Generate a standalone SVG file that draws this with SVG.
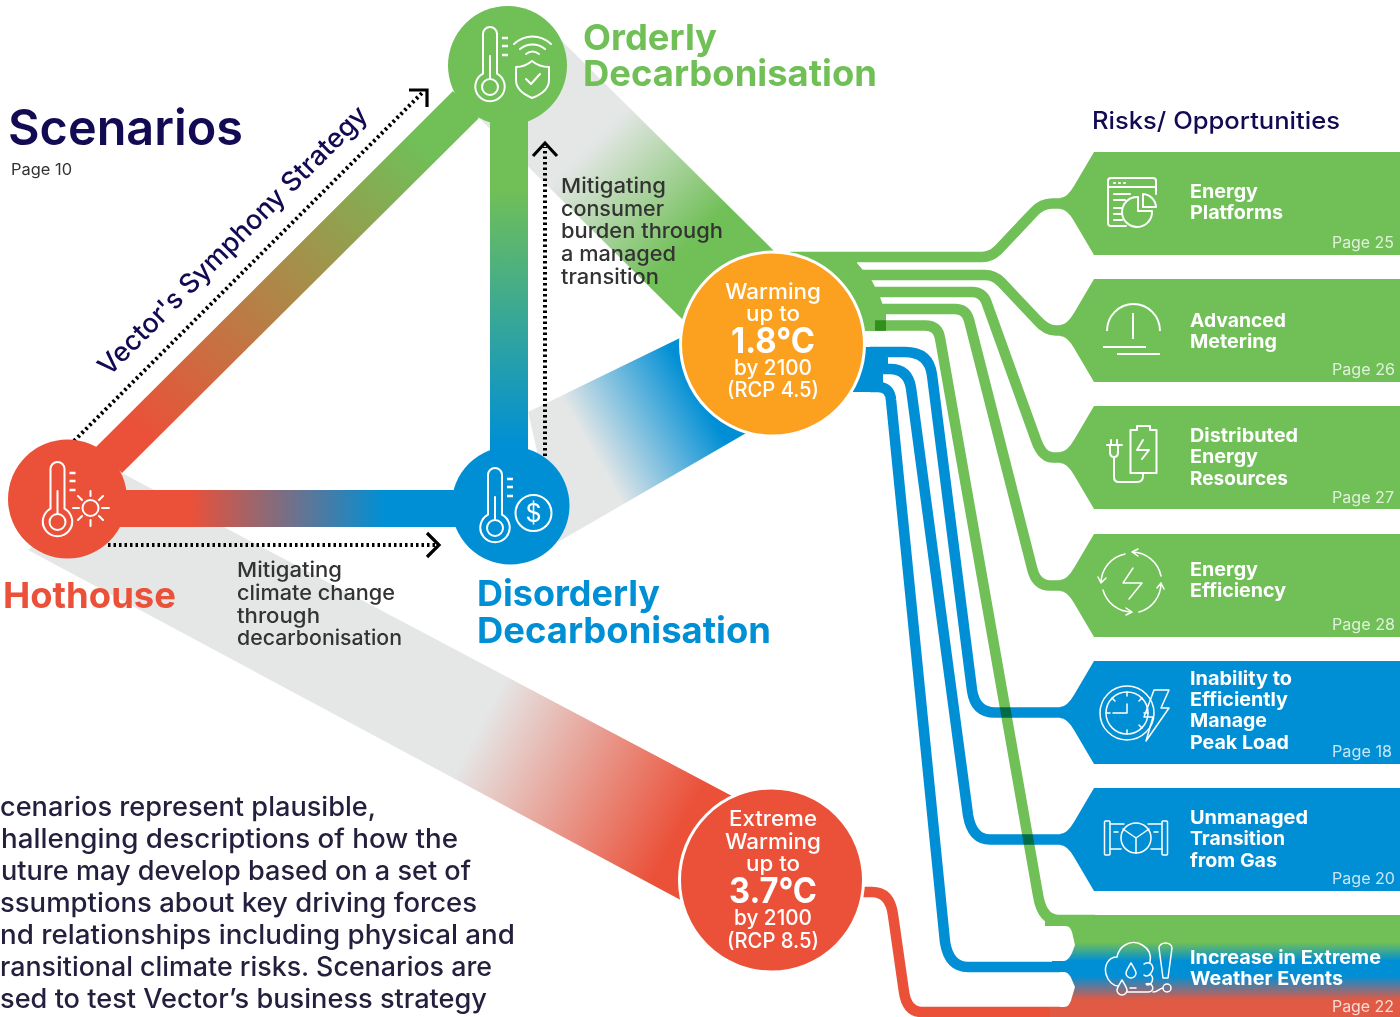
<svg xmlns="http://www.w3.org/2000/svg" xmlns:xlink="http://www.w3.org/1999/xlink" width="1400" height="1017" viewBox="0 0 1400 1017">
<style>
text{font-family:"Inter","Liberation Sans",sans-serif}
.h{font-size:36px;font-weight:700}
.tb{font-size:19px;font-weight:700;fill:#fff}
.pg{font-size:15.5px;font-weight:400;fill:#fff;fill-opacity:.78}
.body{font-size:26.5px;font-weight:500;fill:#231f3d}
.note{font-size:20.5px;font-weight:500;fill:#333}
.w{font-size:21px;font-weight:500;fill:#fff;text-anchor:middle}
.big{font-size:35px;font-weight:700;fill:#fff;text-anchor:middle}
.ic{fill:none;stroke:#fff;stroke-width:2;stroke-linecap:round;stroke-linejoin:round}
.thin{stroke-width:1.5}
.g{fill:none;stroke:#70bf57;stroke-width:10.5}
.b{fill:none;stroke:#008fd5;stroke-width:10.5}
.r{fill:none;stroke:#eb5038;stroke-width:10.5}
.dot{fill:none;stroke:#000;stroke-width:4;stroke-dasharray:2.5 3}
.chev{fill:none;stroke:#000;stroke-width:3.2}
</style>
<defs>
<linearGradient id="gOH" gradientUnits="userSpaceOnUse" x1="109" y1="460" x2="466" y2="104"><stop offset=".08" stop-color="#eb5038"/><stop offset=".88" stop-color="#70bf57"/></linearGradient>
<linearGradient id="gOD" gradientUnits="userSpaceOnUse" x1="0" y1="190" x2="0" y2="445"><stop offset="0" stop-color="#70bf57"/><stop offset="1" stop-color="#008fd5"/></linearGradient>
<linearGradient id="gHD" gradientUnits="userSpaceOnUse" x1="190" y1="0" x2="385" y2="0"><stop offset="0" stop-color="#eb5038"/><stop offset="1" stop-color="#008fd5"/></linearGradient>
<linearGradient id="gGrayG" gradientUnits="userSpaceOnUse" x1="590" y1="145" x2="690" y2="245"><stop offset="0" stop-color="#e5e7e7"/><stop offset="1" stop-color="#70bf57"/></linearGradient>
<linearGradient id="gGrayB" gradientUnits="userSpaceOnUse" x1="590" y1="448" x2="695" y2="388"><stop offset="0" stop-color="#e5e7e7"/><stop offset="1" stop-color="#008fd5"/></linearGradient>
<linearGradient id="gGrayR" gradientUnits="userSpaceOnUse" x1="490" y1="705" x2="690" y2="812"><stop offset="0" stop-color="#e5e7e7"/><stop offset="1" stop-color="#eb5038"/></linearGradient>
<linearGradient id="gTab" gradientUnits="userSpaceOnUse" x1="0" y1="915" x2="0" y2="1017"><stop offset=".27" stop-color="#70bf57"/><stop offset=".45" stop-color="#008fd5"/><stop offset=".6" stop-color="#008fd5"/><stop offset=".83" stop-color="#e05a44"/></linearGradient>
<g id="thermo" class="ic" stroke-width="2.4">
<path d="M-7 -13.3V-53a7 7 0 0 1 14 0V-13.3A14.7 14.7 0 1 1 -7 -13.3Z"/>
<circle r="8"/>
<path d="M0 -8V-31"/>
<path d="M12 -49h6M12 -41h6M12 -32h6" stroke-width="2.6" stroke-linecap="butt"/>
</g>
<path id="tab" d="M1400 0H1094L1074 34Q1067 46 1060 46V57Q1067 57 1074 69L1094 103H1400Z"/>
</defs>

<g id="bands">
<polygon points="558,37 775,252 682,319 479,118" fill="url(#gGrayG)"/>
<polygon points="528,412 682,337 748,432 558,542" fill="url(#gGrayB)"/>
<polygon points="122,473 732,796 690,905 28,550" fill="url(#gGrayR)"/>
<polygon points="96,447 453,91 479,118 122,473" fill="url(#gOH)"/>
<rect x="490" y="90" width="38" height="390" fill="url(#gOD)"/>
<rect x="100" y="490" width="370" height="37" fill="url(#gHD)"/>
</g>

<g id="connectors">
<polygon points="790,252 857,252 857,263 872,281 880,297 886,314 886,331 840,331 780,300" fill="#70bf57"/>
<polygon points="860,347 892,347 888,357 888,364 883,374 883,382 888,392 850,392 840,380" fill="#008fd5"/>
<path class="b" d="M870 352H905Q929 352 932 375L972 690Q975 712.5 995 712.5H1068"/>
<path class="b" d="M870 369H890Q908 369 911 388L968 815Q972 839.5 990 839.5H1068"/>
<path class="b" d="M870 387H878Q890 387 891 400L945 942Q949 967 968 967H1060"/>
<path class="g" d="M790 257H982Q991 257 998 250L1034 212Q1042 203.5 1052 203.5H1065"/>
<path class="g" d="M850 275H985Q994 275 1001 282L1037 320Q1046 330.5 1056 330.5H1065"/>
<path class="g" d="M860 292H972Q982 292 986 301L1036 440Q1042 457.5 1053 457.5H1068"/>
<path class="g" d="M870 309H955Q966 309 969 320L1032 568Q1036 585.5 1050 585.5H1068"/>
<path class="g" style="mix-blend-mode:multiply" d="M875 325.5H925Q938 325.5 940 338L1038 895Q1042 920 1058 920H1095"/>
<path class="r" d="M860 892H872Q890 892 893 915L904 992Q907 1012 922 1012H1060"/>
<path class="dot" d="M74 441L424 91"/>
<path class="chev" d="M409 90H427V107"/>
<path class="dot" d="M545 456V147"/>
<path class="chev" d="M533 156L545 143L557 156"/>
<path class="dot" d="M108 545H436"/>
<path class="chev" d="M427 533L439 545L427 557"/>
</g>

<g id="node-orderly">
<circle cx="507.500" cy="65.500" r="59.500" fill="#70bf57"/>
<use href="#thermo" x="490" y="87"/>
<path class="ic" stroke-width="2.4" d="M532 61C526 66 521 67 516 67V80C516 89 525 95 532 98C540 95 549 89 549 80V67C543 67 538 66 532 61Z"/>
<path class="ic" stroke-width="2.4" d="M526 79L531 84L540 74M514 44C525 34 540 34 551 44M520 49C527 43 538 43 545 49M526 54C530 51 535 51 539 54"/>
<text class="h" x="583" y="50" fill="#70bf57" textLength="134" lengthAdjust="spacingAndGlyphs">Orderly</text>
<text class="h" x="583" y="86" fill="#70bf57" textLength="294" lengthAdjust="spacingAndGlyphs">Decarbonisation</text>
</g>

<g id="node-hothouse">
<circle cx="67.500" cy="499" r="59.500" fill="#eb5038"/>
<use href="#thermo" x="57.500" y="522"/>
<g class="ic"><circle cx="90.500" cy="508" r="8"/><path d="M90.500 491V496M90.500 520V526M73 508H79M102 508H109M78 496L82 500M99 516L103 520M103 496L99 500M82 516L78 520"/></g>
<text class="h" x="3" y="608" fill="#eb5038" textLength="173" lengthAdjust="spacingAndGlyphs">Hothouse</text>
</g>

<g id="node-disorderly">
<circle cx="510.500" cy="505.500" r="59" fill="#008fd5"/>
<use href="#thermo" x="495" y="528"/>
<g class="ic"><circle cx="533.500" cy="513" r="18"/></g>
<text x="533.500" y="522" text-anchor="middle" style="font-size:25px;font-weight:400;fill:#fff">$</text>
<text class="h" x="477" y="606" fill="#008fd5" textLength="183" lengthAdjust="spacingAndGlyphs">Disorderly</text>
<text class="h" x="477" y="643" fill="#008fd5" textLength="294" lengthAdjust="spacingAndGlyphs">Decarbonisation</text>
</g>

<g id="node-warming-18">
<circle cx="772.500" cy="344" r="92" fill="#fba11f" stroke="#fff" stroke-width="3"/>
<text class="w" x="773" y="299" textLength="96" lengthAdjust="spacingAndGlyphs">Warming</text>
<text class="w" x="773" y="321" textLength="54" lengthAdjust="spacingAndGlyphs">up to</text>
<text class="big" x="773" y="353" textLength="84" lengthAdjust="spacingAndGlyphs">1.8°C</text>
<text class="w" x="773" y="375" textLength="78" lengthAdjust="spacingAndGlyphs">by 2100</text>
<text class="w" x="773" y="397" textLength="92" lengthAdjust="spacingAndGlyphs">(RCP 4.5)</text>
</g>

<g id="node-warming-37">
<circle cx="771.500" cy="880" r="92" fill="#eb5038" stroke="#fff" stroke-width="3"/>
<text class="w" x="773" y="826" textLength="88" lengthAdjust="spacingAndGlyphs">Extreme</text>
<text class="w" x="773" y="849" textLength="96" lengthAdjust="spacingAndGlyphs">Warming</text>
<text class="w" x="773" y="871" textLength="54" lengthAdjust="spacingAndGlyphs">up to</text>
<text class="big" x="773" y="903" textLength="88" lengthAdjust="spacingAndGlyphs">3.7°C</text>
<text class="w" x="773" y="925" textLength="78" lengthAdjust="spacingAndGlyphs">by 2100</text>
<text class="w" x="773" y="948" textLength="92" lengthAdjust="spacingAndGlyphs">(RCP 8.5)</text>
</g>

<g id="labels">
<text x="8" y="145" textLength="235" lengthAdjust="spacingAndGlyphs" style="font-size:49px;font-weight:600;fill:#120a52">Scenarios</text>
<text x="11" y="175" textLength="61" lengthAdjust="spacingAndGlyphs" style="font-size:15.5px;fill:#333">Page 10</text>
<text x="1092" y="129" textLength="248" lengthAdjust="spacingAndGlyphs" style="font-size:24px;font-weight:500;fill:#120a52">Risks/ Opportunities</text>
<text transform="translate(109 377) rotate(-45)" textLength="368" lengthAdjust="spacingAndGlyphs" style="font-size:27px;font-weight:500;fill:#120a52">Vector's Symphony Strategy</text>
<text class="note" x="561" y="193" textLength="105" lengthAdjust="spacingAndGlyphs">Mitigating</text>
<text class="note" x="561" y="216" textLength="103" lengthAdjust="spacingAndGlyphs">consumer</text>
<text class="note" x="561" y="238" textLength="162" lengthAdjust="spacingAndGlyphs">burden through</text>
<text class="note" x="561" y="261" textLength="115" lengthAdjust="spacingAndGlyphs">a managed</text>
<text class="note" x="561" y="284" textLength="98" lengthAdjust="spacingAndGlyphs">transition</text>
<text class="note" x="237" y="577" textLength="105" lengthAdjust="spacingAndGlyphs">Mitigating</text>
<text class="note" x="237" y="600" textLength="158" lengthAdjust="spacingAndGlyphs">climate change</text>
<text class="note" x="237" y="623" textLength="83" lengthAdjust="spacingAndGlyphs">through</text>
<text class="note" x="237" y="645" textLength="165" lengthAdjust="spacingAndGlyphs">decarbonisation</text>
<text class="body" x="0" y="816" textLength="376" lengthAdjust="spacingAndGlyphs">cenarios represent plausible,</text>
<text class="body" x="1" y="848" textLength="457" lengthAdjust="spacingAndGlyphs">hallenging descriptions of how the</text>
<text class="body" x="1" y="880" textLength="470" lengthAdjust="spacingAndGlyphs">uture may develop based on a set of</text>
<text class="body" x="0" y="912" textLength="477" lengthAdjust="spacingAndGlyphs">ssumptions about key driving forces</text>
<text class="body" x="0" y="944" textLength="515" lengthAdjust="spacingAndGlyphs">nd relationships including physical and</text>
<text class="body" x="0" y="976" textLength="492" lengthAdjust="spacingAndGlyphs">ransitional climate risks. Scenarios are</text>
<text class="body" x="0" y="1008" textLength="487" lengthAdjust="spacingAndGlyphs">sed to test Vector’s business strategy</text>
</g>

<g id="tab-energy-platforms">
<use href="#tab" y="152" fill="#70bf57"/>
<g class="ic"><path d="M1126 226H1111Q1108 226 1108 223V181Q1108 178 1111 178H1153Q1156 178 1156 181V194M1108 187H1156M1114 183H1115M1119 183H1120M1124 183H1125M1114 194H1130M1114 200H1125M1114 208H1122M1114 214H1121M1114 220H1122M1138 197A15 15 0 1 0 1152 211H1138ZM1143 194A14 14 0 0 1 1156 207H1143Z"/></g>
<text class="tb" x="1190" y="198" textLength="68" lengthAdjust="spacingAndGlyphs">Energy</text>
<text class="tb" x="1190" y="219" textLength="93" lengthAdjust="spacingAndGlyphs">Platforms</text>
<text class="pg" x="1332" y="248" textLength="62" lengthAdjust="spacingAndGlyphs">Page 25</text>
</g>

<g id="tab-advanced-metering">
<use href="#tab" y="279" fill="#70bf57"/>
<g class="ic"><path d="M1107 331A26.500 27 0 0 1 1160 331M1133 313V339" stroke-linecap="butt"/><path d="M1103 347H1146M1117 354H1160" stroke-linecap="butt"/></g>
<text class="tb" x="1190" y="327" textLength="96" lengthAdjust="spacingAndGlyphs">Advanced</text>
<text class="tb" x="1190" y="348" textLength="87" lengthAdjust="spacingAndGlyphs">Metering</text>
<text class="pg" x="1332" y="375" textLength="63" lengthAdjust="spacingAndGlyphs">Page 26</text>
</g>

<g id="tab-distributed">
<use href="#tab" y="406" fill="#70bf57"/>
<g class="ic"><path d="M1130.500 430H1137V426H1150V430H1156.500V473H1130.500ZM1143 440L1137 450H1149L1142 459"/><path d="M1111 440V445M1117 440V445M1107 445H1122M1110 445V452Q1110 457 1114 457Q1118 457 1118 452V445M1114 457V477Q1114 482 1119 482H1137Q1143 482 1143 476V473"/></g>
<text class="tb" x="1190" y="442" textLength="108" lengthAdjust="spacingAndGlyphs">Distributed</text>
<text class="tb" x="1190" y="463" textLength="68" lengthAdjust="spacingAndGlyphs">Energy</text>
<text class="tb" x="1190" y="485" textLength="98" lengthAdjust="spacingAndGlyphs">Resources</text>
<text class="pg" x="1332" y="503" textLength="62" lengthAdjust="spacingAndGlyphs">Page 27</text>
</g>

<g id="tab-efficiency">
<use href="#tab" y="534" fill="#70bf57"/>
<g class="ic thin"><path d="M1133 568L1123 583H1142L1129 599"/><path d="M1125 554A30 30 0 0 0 1101 583M1098 577L1101 583L1106 578M1103 590A30 30 0 0 0 1132 612M1126 608L1132 612L1126 615M1139 612A30 30 0 0 0 1161 583M1157 588L1161 583L1164 589M1161 576A30 30 0 0 0 1132 552M1138 549L1132 552L1138 556"/></g>
<text class="tb" x="1190" y="576" textLength="68" lengthAdjust="spacingAndGlyphs">Energy</text>
<text class="tb" x="1190" y="597" textLength="96" lengthAdjust="spacingAndGlyphs">Efficiency</text>
<text class="pg" x="1332" y="630" textLength="63" lengthAdjust="spacingAndGlyphs">Page 28</text>
</g>

<g id="tab-peak-load">
<use href="#tab" y="661" fill="#008fd5"/>
<g class="ic thin"><circle cx="1127" cy="713" r="27"/><circle cx="1127" cy="713" r="21"/><path d="M1127 704V713H1113M1127 692V696M1127 730V734M1106 713H1110M1144 713H1148M1112 698L1115 701M1142 728L1139 725M1142 698L1139 701"/><path d="M1154 690H1169L1161 708H1169L1146 741L1153 717H1144Z"/></g>
<text class="tb" x="1190" y="685" textLength="102" lengthAdjust="spacingAndGlyphs">Inability to</text>
<text class="tb" x="1190" y="706" textLength="98" lengthAdjust="spacingAndGlyphs">Efficiently</text>
<text class="tb" x="1190" y="727" textLength="77" lengthAdjust="spacingAndGlyphs">Manage</text>
<text class="tb" x="1190" y="749" textLength="99" lengthAdjust="spacingAndGlyphs">Peak Load</text>
<text class="pg" x="1332" y="757" textLength="60" lengthAdjust="spacingAndGlyphs">Page 18</text>
</g>

<g id="tab-gas">
<use href="#tab" y="788" fill="#008fd5"/>
<g class="ic thin"><rect x="1104.500" y="821" width="5.500" height="34" rx="1"/><rect x="1162" y="821" width="5.500" height="34" rx="1"/><circle cx="1136" cy="838" r="15"/><path d="M1136 838V853M1136 838L1123 829M1136 838L1149 829M1110 824H1124M1148 824H1162M1110 849H1121M1151 849H1162M1114 832H1118M1154 832H1158"/></g>
<text class="tb" x="1190" y="824" textLength="118" lengthAdjust="spacingAndGlyphs">Unmanaged</text>
<text class="tb" x="1190" y="845" textLength="95" lengthAdjust="spacingAndGlyphs">Transition</text>
<text class="tb" x="1190" y="867" textLength="87" lengthAdjust="spacingAndGlyphs">from Gas</text>
<text class="pg" x="1332" y="884" textLength="63" lengthAdjust="spacingAndGlyphs">Page 20</text>
</g>

<g id="tab-weather">
<path fill="url(#gTab)" d="M1400 915H1045V926H1066Q1070 926 1072 932L1075 945L1072 953Q1068 961 1064 961H1052V972H1064Q1069 972 1072 980L1075 987L1072 997Q1070 1007 1064 1007H1050V1017H1400Z"/>
<g class="ic thin"><path d="M1150 962C1153 947 1136 938 1125 945C1120 948 1118 952 1117 957C1108 957 1104 966 1106 974C1108 982 1114 986 1118 986M1131 963C1128 968 1126 971 1126 973A5 5 0 0 0 1136 973C1136 971 1134 968 1131 963ZM1122 980C1119 985 1117 988 1117 990A5 5 0 0 0 1127 990C1127 988 1125 985 1122 980ZM1130 988H1136M1127 992H1148C1156 992 1153 981 1146 984M1144 964C1152 960 1155 968 1151 973C1149 976 1146 977 1144 975M1150 974C1155 978 1152 985 1147 985M1153 992C1158 992 1160 988 1163 988M1159 948A6.500 5 0 0 1 1172 948L1168 978H1163ZM1171 988A4 4 0 1 1 1163 988A4 4 0 1 1 1171 988Z"/></g>
<text class="tb" x="1190" y="964" textLength="191" lengthAdjust="spacingAndGlyphs">Increase in Extreme</text>
<text class="tb" x="1190" y="985" textLength="153" lengthAdjust="spacingAndGlyphs">Weather Events</text>
<text class="pg" x="1332" y="1012" textLength="62" lengthAdjust="spacingAndGlyphs">Page 22</text>
</g>
</svg>
